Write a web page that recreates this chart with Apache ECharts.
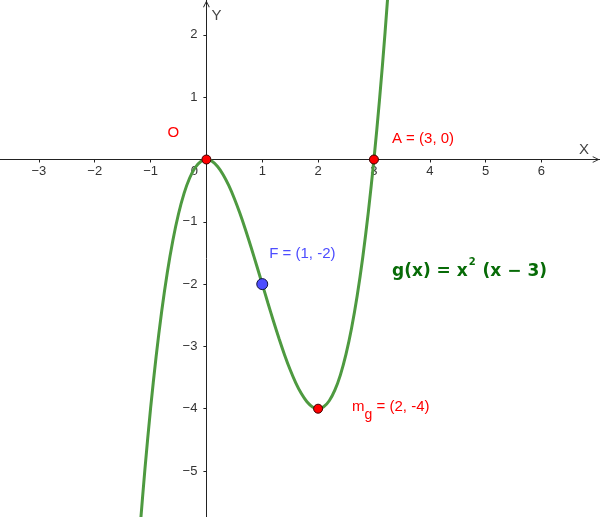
<!DOCTYPE html>
<html>
<head>
<meta charset="utf-8">
<script src="https://cdn.jsdelivr.net/npm/echarts@6/dist/echarts.min.js"></script>
<style>
  html, body { margin: 0; padding: 0; background: #fff; }
  #main { width: 600px; height: 517px; }
</style>
</head>
<body>
<div id="main"></div>
<script>
// points of g(x) = x^2 (x - 3)
var curveX = [-1.2, -1.1, -1.0, -0.9, -0.8, -0.7, -0.6, -0.5, -0.4, -0.3, -0.2, -0.1, 0,
  0.1, 0.2, 0.3, 0.4, 0.5, 0.6, 0.7, 0.8, 0.9, 1.0, 1.1, 1.2, 1.3, 1.4, 1.5, 1.6, 1.7,
  1.8, 1.9, 2.0, 2.1, 2.2, 2.3, 2.4, 2.5, 2.6, 2.7, 2.8, 2.9, 3.0, 3.1, 3.2, 3.3];
var curveY = [-6.048, -4.961, -4, -3.159, -2.432, -1.813, -1.296, -0.875, -0.544, -0.297, -0.128, -0.031, 0,
  -0.029, -0.112, -0.243, -0.416, -0.625, -0.864, -1.127, -1.408, -1.701, -2, -2.299, -2.592, -2.873, -3.136, -3.375, -3.584, -3.757,
  -3.888, -3.971, -4, -3.969, -3.872, -3.703, -3.456, -3.125, -2.704, -2.187, -1.568, -0.841, 0, 0.961, 2.048, 3.267];

// special points
var redPoints = [[0, 0], [3, 0], [2, -4]];
var redLabels = ['O', 'A = (3, 0)', 'm_g'];
var bluePoints = [[1, -2]];
var blueLabels = ['F = (1, -2)'];

// tick labels
var xTicks = [-3, -2, -1, 0, 1, 2, 3, 4, 5, 6];
var yTicks = [-5, -4, -3, -2, -1, 1, 2];

// view window
var xMin = -3.696, xMax = 7.048;
var yMin = -5.738, yMax = 2.560;

var W = 600, H = 517;
var chart = echarts.init(document.getElementById('main'));

var curveData = [];
for (var i = 0; i < curveX.length; i++) {
  curveData.push([curveX[i], curveY[i]]);
}

//坐标轴移到原点（v6 中 onZero 不移动刻度标签）
var xAxisOffset = -(0 - yMin) / (yMax - yMin) * H;
var yAxisOffset = -(0 - xMin) / (xMax - xMin) * W;

var labelFont = 'Liberation Sans';
var arrowPath = 'path://M0,10 L5,0 L10,10 L8.8,10.6 L5,2.6 L1.2,10.6 Z';

//每个点的标签位置
var redLabelCfg = [
  { offset: [-44, -27] },
  { offset: [13, -21] },
  { offset: [29, 0] }
];

var redData = redPoints.map(function (p, k) {
  var lab = {
    show: true,
    position: 'right',
    distance: 0,
    offset: redLabelCfg[k].offset,
    color: '#ff0000',
    fontFamily: labelFont,
    fontSize: 15,
    formatter: redLabels[k]
  };
  if (redLabels[k] === 'm_g') {
    lab.formatter = '{m|m}{s|g}{m| = (2, -4)}';
    lab.rich = {
      m: { color: '#ff0000', fontFamily: labelFont, fontSize: 15, lineHeight: 18, verticalAlign: 'top' },
      s: { color: '#ff0000', fontFamily: labelFont, fontSize: 14, lineHeight: 18, padding: [8, 0, 0, 0], verticalAlign: 'top' }
    };
  }
  return { value: p, label: lab };
});

var blueData = bluePoints.map(function (p, k) {
  return {
    value: p,
    label: {
      show: true,
      position: 'right',
      distance: 0,
      offset: [1, -30],
      color: '#4d4dff',
      fontFamily: labelFont,
      fontSize: 15,
      formatter: blueLabels[k]
    }
  };
});

var option = {
  animation: false,
  backgroundColor: '#ffffff',
  title: {
    left: 387,
    top: 252,
    text: '{t|g(x) = x}{sup|2}{t| (x − 3)}',
    textStyle: {
      rich: {
        t: { fontFamily: 'DejaVu Sans', fontWeight: 'bold', fontSize: 17, color: '#076b07', verticalAlign: 'bottom', lineHeight: 23 },
        sup: { fontFamily: 'DejaVu Sans', fontWeight: 'bold', fontSize: 10, color: '#076b07', verticalAlign: 'top', lineHeight: 23, padding: [0, 1, 8, 1] }
      }
    }
  },
  grid: { left: 0, right: 0, top: 0, bottom: 0, containLabel: false, outerBoundsMode: 'none' },
  xAxis: {
    type: 'value',
    min: xMin,
    max: xMax,
    position: 'bottom',
    offset: xAxisOffset,
    name: 'X',
    nameLocation: 'end',
    nameGap: -16,
    nameTextStyle: { color: '#444', fontFamily: labelFont, fontSize: 15, verticalAlign: 'bottom', align: 'center', padding: [0, 0, 2, 0] },
    splitLine: { show: false },
    axisLine: {
      onZero: false,
      symbol: ['none', arrowPath],
      symbolSize: [10, 7],
      symbolOffset: [0, -4],
      lineStyle: { color: '#222', width: 1 }
    },
    axisTick: { show: true, length: 3, customValues: xTicks, lineStyle: { color: '#222' } },
    axisLabel: {
      customValues: xTicks,
      margin: 5,
      color: '#333',
      fontFamily: labelFont,
      fontSize: 13,
      formatter: function (v) {
        if (v === 0) return '{z|0}';
        return v < 0 ? '\u2212' + Math.abs(v) : String(v);
      },
      rich: { z: { color: '#333', fontFamily: labelFont, fontSize: 13, padding: [0, 24, 0, 0] } }
    }
  },
  yAxis: {
    type: 'value',
    min: yMin,
    max: yMax,
    position: 'left',
    offset: yAxisOffset,
    name: 'Y',
    nameLocation: 'end',
    nameGap: -16,
    nameTextStyle: { color: '#444', fontFamily: labelFont, fontSize: 15, align: 'left', verticalAlign: 'middle', padding: [0, 0, 0, 5] },
    splitLine: { show: false },
    axisLine: {
      onZero: false,
      symbol: ['none', arrowPath],
      symbolSize: [10, 7],
      symbolOffset: [0, -4],
      lineStyle: { color: '#222', width: 1 }
    },
    axisTick: { show: true, length: 3, customValues: yTicks, lineStyle: { color: '#222' } },
    axisLabel: {
      customValues: yTicks,
      margin: 9,
      color: '#333',
      fontFamily: labelFont,
      fontSize: 13,
      formatter: function (v) {
        return v < 0 ? '\u2212' + Math.abs(v) : String(v);
      }
    }
  },
  series: [
    {
      type: 'line',
      data: curveData,
      smooth: 0.3,
      showSymbol: false,
      clip: true,
      lineStyle: { color: '#4e9a40', width: 3 },
      z: 2
    },
    {
      type: 'scatter',
      data: redData,
      symbolSize: 9,
      itemStyle: { color: '#ff0000', borderColor: '#3a0000', borderWidth: 1, opacity: 1 },
      z: 3
    },
    {
      type: 'scatter',
      data: blueData,
      symbolSize: 11,
      itemStyle: { color: '#4d4dff', borderColor: '#141440', borderWidth: 1, opacity: 1 },
      z: 3
    }
  ]
};

chart.setOption(option);
</script>
</body>
</html>
